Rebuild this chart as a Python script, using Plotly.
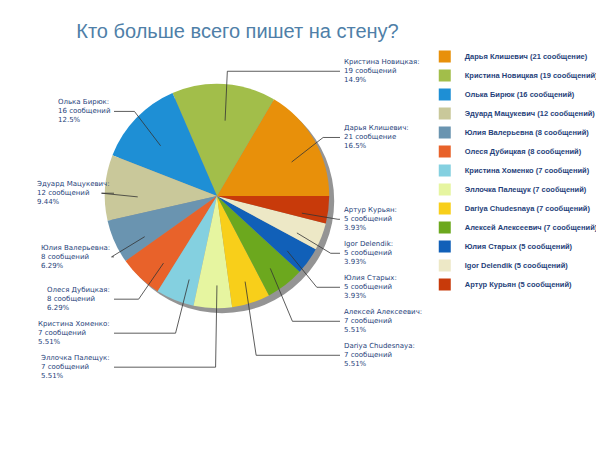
import plotly.graph_objects as go
import math

names = ["Дарья Клишевич", "Кристина Новицкая", "Олька Бирюк", "Эдуард Мацукевич",
         "Юлия Валерьевна", "Олеся Дубицкая", "Кристина Хоменко", "Эллочка Палещук",
         "Dariya Chudesnaya", "Алексей Алексеевич", "Юлия Старых", "Igor Delendik", "Артур Курьян"]
values = [21, 19, 16, 12, 8, 8, 7, 7, 7, 7, 5, 5, 5]
words = ["сообщение", "сообщений", "сообщений", "сообщений", "сообщений", "сообщений",
         "сообщений", "сообщений", "сообщений", "сообщений", "сообщений", "сообщений", "сообщений"]
colors = ["#E8900A", "#A2BE4A", "#1E8FD5", "#C9C89A", "#6A94B0", "#E8622A", "#84D0E0",
          "#E6F5A0", "#F8CF1A", "#6CA81E", "#1160B8", "#EDE8C6", "#C83A0A"]

total = sum(values)
legend_names = [f"<b>{n} ({v} {w})</b>" for n, v, w in zip(names, values, words)]

def pct(frac):
    p = frac * 100
    d = 1 if p >= 10 else 2
    t = math.floor(p * 10**d + 1e-9) / 10**d
    return f"{t:.{d}f}%"

W, H = 604, 453
cxp, cyp, rp = 212, 195, 110
dcx, dcy = cxp - 3, cyp - 7
rd = rp * 1.02
dom_x = [(dcx - rd) / W, (dcx + rd) / W]
dom_y = [1 - (dcy + rd) / H, 1 - (dcy - rd) / H]
sh = 5
fig = go.Figure()
fig.add_trace(go.Pie(values=[1], labels=["shadow"], marker=dict(colors=["rgba(60,60,60,0.55)"]),
                     textinfo="none", hoverinfo="skip", showlegend=False,
                     domain=dict(x=[dom_x[0] + sh / W, dom_x[1] + sh / W],
                                 y=[dom_y[0] - sh / H, dom_y[1] - sh / H])))
fig.add_trace(go.Pie(labels=legend_names, values=values, sort=False, direction="counterclockwise",
                     rotation=30.5, marker=dict(colors=colors, line=dict(color="white", width=0)),
                     textinfo="none", hoverinfo="label+percent",
                     domain=dict(x=dom_x, y=dom_y)))

fig.update_layout(
    width=W, height=H, paper_bgcolor="white", plot_bgcolor="white",
    margin=dict(l=0, r=0, t=0, b=0),
    title=dict(text="Кто больше всего пишет на стену?", x=0.38, y=0.965, xanchor="center",
               font=dict(family="Liberation Sans", size=20, color="#4F7FA8")),
    legend=dict(x=0.69, y=0.925, xanchor="left", yanchor="top",
                font=dict(family="Liberation Sans", size=7.5, color="#1F3F7A"),
                itemwidth=30, tracegroupgap=0, bgcolor="rgba(0,0,0,0)"),
    showlegend=True,
)

items = []
ang = 0.0
for n, v, w in zip(names, values, words):
    frac = v / total
    mid = ang + frac * math.pi
    ang += frac * 2 * math.pi
    items.append((n, v, w, frac, math.cos(mid), math.sin(mid)))

def place(side):
    sel = [it for it in items if (it[4] >= 0) == side]
    sel.sort(key=lambda it: -it[5])
    out = []
    last = -1e9
    for it in sel:
        y = cyp - rp * 1.2 * it[5]
        y = max(y, last + 34)
        out.append((it, y))
        last = y
    return out

for side in (True, False):
    for it, ly in place(side):
        n, v, w, frac, ux, uy = it
        px, py = cxp + rp * 0.75 * ux, cyp - rp * 0.75 * uy
        ex = cxp + rp * 1.08 * ux
        tx = 332 if side else 106
        fig.add_shape(type="path", xref="paper", yref="paper",
                      path=f"M {px/W} {1-py/H} L {ex/W} {1-ly/H} L {tx/W} {1-ly/H}",
                      line=dict(color="#333", width=0.8))
        fig.add_annotation(x=(tx + (2 if side else -2)) / W, y=1 - ly / H, xref="paper", yref="paper",
                           xanchor="left" if side else "right", yanchor="middle", showarrow=False,
                           align="left",
                           text=f"{n}:<br>{v} {w}<br>{pct(frac)}",
                           font=dict(family="DejaVu Sans", size=7, color="#1F3F7A"))

fig.write_html("out.html")
